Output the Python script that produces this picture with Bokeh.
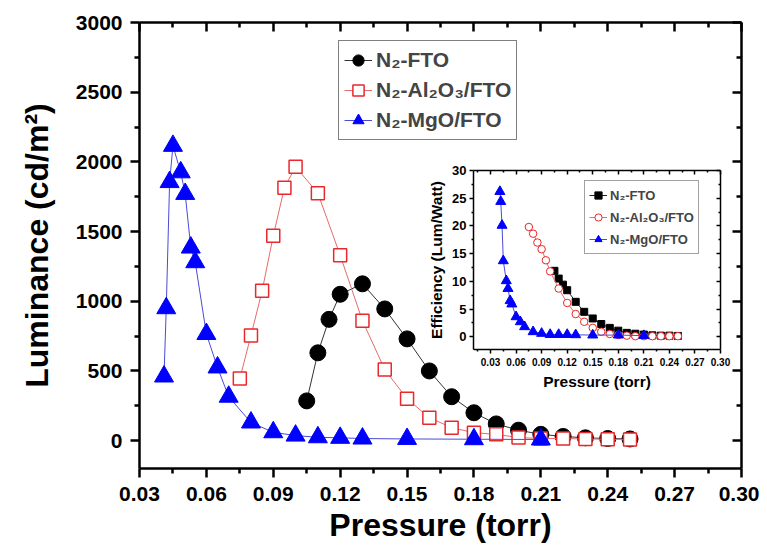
from bokeh.plotting import figure
from bokeh.models import Range1d, FixedTicker, LinearAxis, Legend, LegendItem, PrintfTickFormatter
from bokeh.embed import file_html
from bokeh.resources import INLINE

FONT = "Liberation Sans"

# ---------------- data (main: luminance) ----------------
fto_p = [0.105, 0.11, 0.115, 0.12, 0.13, 0.14, 0.15, 0.16, 0.17, 0.18, 0.19, 0.20,
         0.21, 0.22, 0.23, 0.24, 0.25]
fto_lum = [285, 630, 870, 1050, 1125, 945, 730, 500, 315, 200, 120, 75, 45, 30, 20, 15, 12]

al_p = [0.075, 0.08, 0.085, 0.09, 0.095, 0.10, 0.11, 0.12, 0.13, 0.14, 0.15, 0.16, 0.17,
        0.18, 0.19, 0.20, 0.21, 0.22, 0.23, 0.24, 0.25]
al_lum = [445, 755, 1075, 1470, 1815, 1965, 1775, 1330, 860, 510, 300, 165, 93, 57, 45,
          22, 15, 15, 12, 10, 8]

mgo_p = [0.041, 0.042, 0.0435, 0.045, 0.0485, 0.0505, 0.053, 0.055, 0.060, 0.065, 0.070,
         0.080, 0.090, 0.10, 0.11, 0.12, 0.13, 0.15, 0.18, 0.21]
mgo_lum = [460, 950, 1855, 2115, 1925, 1770, 1385, 1280, 765, 525, 315, 130, 60, 36, 24,
           20, 15, 12, 10, 8]

# ---------------- data (inset: efficiency) ----------------
fto_eff = [11.9, 10.5, 9.4, 8.4, 6.3, 4.5, 3.3, 2.3, 1.6, 1.1, 0.7, 0.55, 0.4, 0.25, 0.2, 0.2, 0.15]
al_eff = [19.8, 18.6, 17.0, 15.8, 13.8, 11.8, 8.7, 6.1, 4.1, 2.7, 1.6, 0.9, 0.5, 0.3, 0.2,
          0.1, 0.1, 0.1, 0.1, 0.1, 0.1]
mgo_eff = [26.2, 24.4, 20.1, 13.7, 10.1, 8.7, 6.5, 5.9, 3.6, 2.7, 1.8, 0.9, 0.6, 0.4, 0.4,
           0.4, 0.35, 0.3, 0.3, 0.2]

labels = ["N\u2082-FTO", "N\u2082-Al\u2082O\u2083/FTO", "N\u2082-MgO/FTO"]

# ---------------- ticks ----------------
x_major = [0.03, 0.06, 0.09, 0.12, 0.15, 0.18, 0.21, 0.24, 0.27, 0.30]
x_minor = [0.015, 0.045, 0.075, 0.105, 0.135, 0.165, 0.195, 0.225, 0.255, 0.285]
y_major = [0, 500, 1000, 1500, 2000, 2500, 3000]
y_minor = [250, 750, 1250, 1750, 2250, 2750]
e_major = [0, 5, 10, 15, 20, 25, 30]
e_minor = [2.5, 7.5, 12.5, 17.5, 22.5, 27.5]


def style_axis(ax, major, minor, lw, maj, mnr, inward, font_size=None, fmt=None):
    ax.ticker = FixedTicker(ticks=major, minor_ticks=minor)
    ax.axis_line_width = lw
    ax.major_tick_line_width = lw
    ax.minor_tick_line_width = lw
    ax.axis_line_color = "black"
    ax.major_tick_line_color = "black"
    ax.minor_tick_line_color = "black"
    if inward:
        ax.major_tick_in, ax.major_tick_out = maj, 0
        ax.minor_tick_in, ax.minor_tick_out = mnr, 0
        ax.major_label_text_font_size = "0px"
        ax.major_label_text_alpha = 0
        ax.major_label_standoff = 0
    else:
        ax.major_tick_in, ax.major_tick_out = 0, maj
        ax.minor_tick_in, ax.minor_tick_out = 0, mnr
        ax.major_label_text_font = FONT
        ax.major_label_text_font_style = "bold"
        ax.major_label_text_font_size = font_size
        ax.major_label_text_color = "black"
    if fmt is not None:
        ax.formatter = fmt


# ---------------- main figure ----------------
p = figure(frame_width=602, frame_height=446, x_range=Range1d(0.03, 0.30), y_range=Range1d(-200, 3000),
           output_backend="svg", toolbar_location=None,
           min_border_left=139, min_border_right=18, min_border_top=22, min_border_bottom=70)
p.xgrid.visible = False
p.ygrid.visible = False
p.outline_line_color = None
p.background_fill_color = "white"
p.border_fill_color = "white"

style_axis(p.xaxis[0], x_major, x_minor, 2.5, 9, 5, False, "21px", PrintfTickFormatter(format="%.2f"))
style_axis(p.yaxis[0], y_major, y_minor, 2.5, 9, 5, False, "21px")
p.xaxis[0].major_label_standoff = 9
p.yaxis[0].major_label_standoff = 8
p.xaxis[0].axis_label = "Pressure (torr)"
p.yaxis[0].axis_label = "Luminance (cd/m\u00b2)"
for ax in (p.xaxis[0], p.yaxis[0]):
    ax.axis_label_text_font = FONT
    ax.axis_label_text_font_style = "bold"
    ax.axis_label_text_font_size = "32px"
    ax.axis_label_text_color = "black"
p.xaxis[0].axis_label_standoff = 3
p.yaxis[0].axis_label_standoff = 18

top = LinearAxis()
style_axis(top, x_major, x_minor, 2.5, 9, 5, True)
p.add_layout(top, "above")
right = LinearAxis()
style_axis(right, y_major, y_minor, 2.5, 9, 5, True)
p.add_layout(right, "right")

l1 = p.line(fto_p, fto_lum, line_color="#333333", line_width=1)
s1 = p.scatter(fto_p, fto_lum, marker="circle", size=16, fill_color="black", line_color="black")
l2 = p.line(al_p, al_lum, line_color="#e36b6b", line_width=1)
s2 = p.scatter(al_p, al_lum, marker="square", size=13, fill_color="white", line_color="#e8282b", line_width=1.5)
l3 = p.line(mgo_p, mgo_lum, line_color="#4a4ad8", line_width=1)
s3 = p.scatter(mgo_p, mgo_lum, marker="triangle", size=19, fill_color="#0000ff", line_color="#0000ff")

leg = Legend(items=[LegendItem(label=labels[0], renderers=[l1, s1]),
                    LegendItem(label=labels[1], renderers=[l2, s2]),
                    LegendItem(label=labels[2], renderers=[l3, s3])],
             location=(199, 328))
leg.border_line_color = "black"
leg.border_line_width = 1
leg.background_fill_color = "white"
leg.label_text_font = FONT
leg.label_text_font_style = "bold"
leg.label_text_font_size = "21px"
leg.glyph_width = 28
leg.glyph_height = 28
leg.label_height = 28
leg.spacing = 2
leg.padding = 5
leg.margin = 0
leg.label_standoff = 4
p.add_layout(leg)

# ---------------- inset figure ----------------
ins = figure(frame_width=247, frame_height=179, x_range=Range1d(0.01, 0.30), y_range=Range1d(-2.3, 30),
             output_backend="svg", toolbar_location=None,
             min_border_left=46, min_border_right=14, min_border_top=10, min_border_bottom=40)
ins.styles = {"position": "absolute", "left": "425px", "top": "160px"}
ins.xgrid.visible = False
ins.ygrid.visible = False
ins.outline_line_color = None
ins.background_fill_color = "white"
ins.border_fill_color = None

style_axis(ins.xaxis[0], x_major, x_minor, 1.5, 4, 2, False, "10px", PrintfTickFormatter(format="%.2f"))
style_axis(ins.yaxis[0], e_major, e_minor, 1.5, 4, 2, False, "13px")
ins.xaxis[0].major_label_standoff = 4
ins.yaxis[0].major_label_standoff = 3
ins.xaxis[0].axis_label = "Pressure (torr)"
ins.yaxis[0].axis_label = "Efficiency (Lum/Watt)"
for ax in (ins.xaxis[0], ins.yaxis[0]):
    ax.axis_label_text_font = FONT
    ax.axis_label_text_font_style = "bold"
    ax.axis_label_text_font_size = "15.5px"
    ax.axis_label_text_color = "black"
    ax.axis_label_standoff = 4

itop = LinearAxis()
style_axis(itop, x_major, x_minor, 1.5, 4, 2, True)
ins.add_layout(itop, "above")
iright = LinearAxis()
style_axis(iright, e_major, e_minor, 1.5, 4, 2, True)
ins.add_layout(iright, "right")

il1 = ins.line(fto_p, fto_eff, line_color="#222222", line_width=1)
is1 = ins.scatter(fto_p, fto_eff, marker="square", size=7, fill_color="black", line_color="black")
il2 = ins.line(al_p, al_eff, line_color="#e36b6b", line_width=1)
is2 = ins.scatter(al_p, al_eff, marker="circle", size=7.5, fill_color="white", line_color="#e8282b", line_width=1)
il3 = ins.line(mgo_p, mgo_eff, line_color="#4a4ad8", line_width=1)
is3 = ins.scatter(mgo_p, mgo_eff, marker="triangle", size=10, fill_color="#0000ff", line_color="#0000ff")

ileg = Legend(items=[LegendItem(label=labels[0], renderers=[il1, is1]),
                     LegendItem(label=labels[1], renderers=[il2, is2]),
                     LegendItem(label=labels[2], renderers=[il3, is3])],
              location=(111, 95))
ileg.border_line_color = "#444444"
ileg.border_line_width = 1
ileg.background_fill_color = "white"
ileg.label_text_font = FONT
ileg.label_text_font_style = "bold"
ileg.label_text_font_size = "13px"
ileg.glyph_width = 18
ileg.glyph_height = 20
ileg.label_height = 20
ileg.spacing = 2
ileg.padding = 4
ileg.margin = 0
ileg.label_standoff = 3
ins.add_layout(ileg)

open("out.html", "w").write(file_html([p, ins], INLINE))
